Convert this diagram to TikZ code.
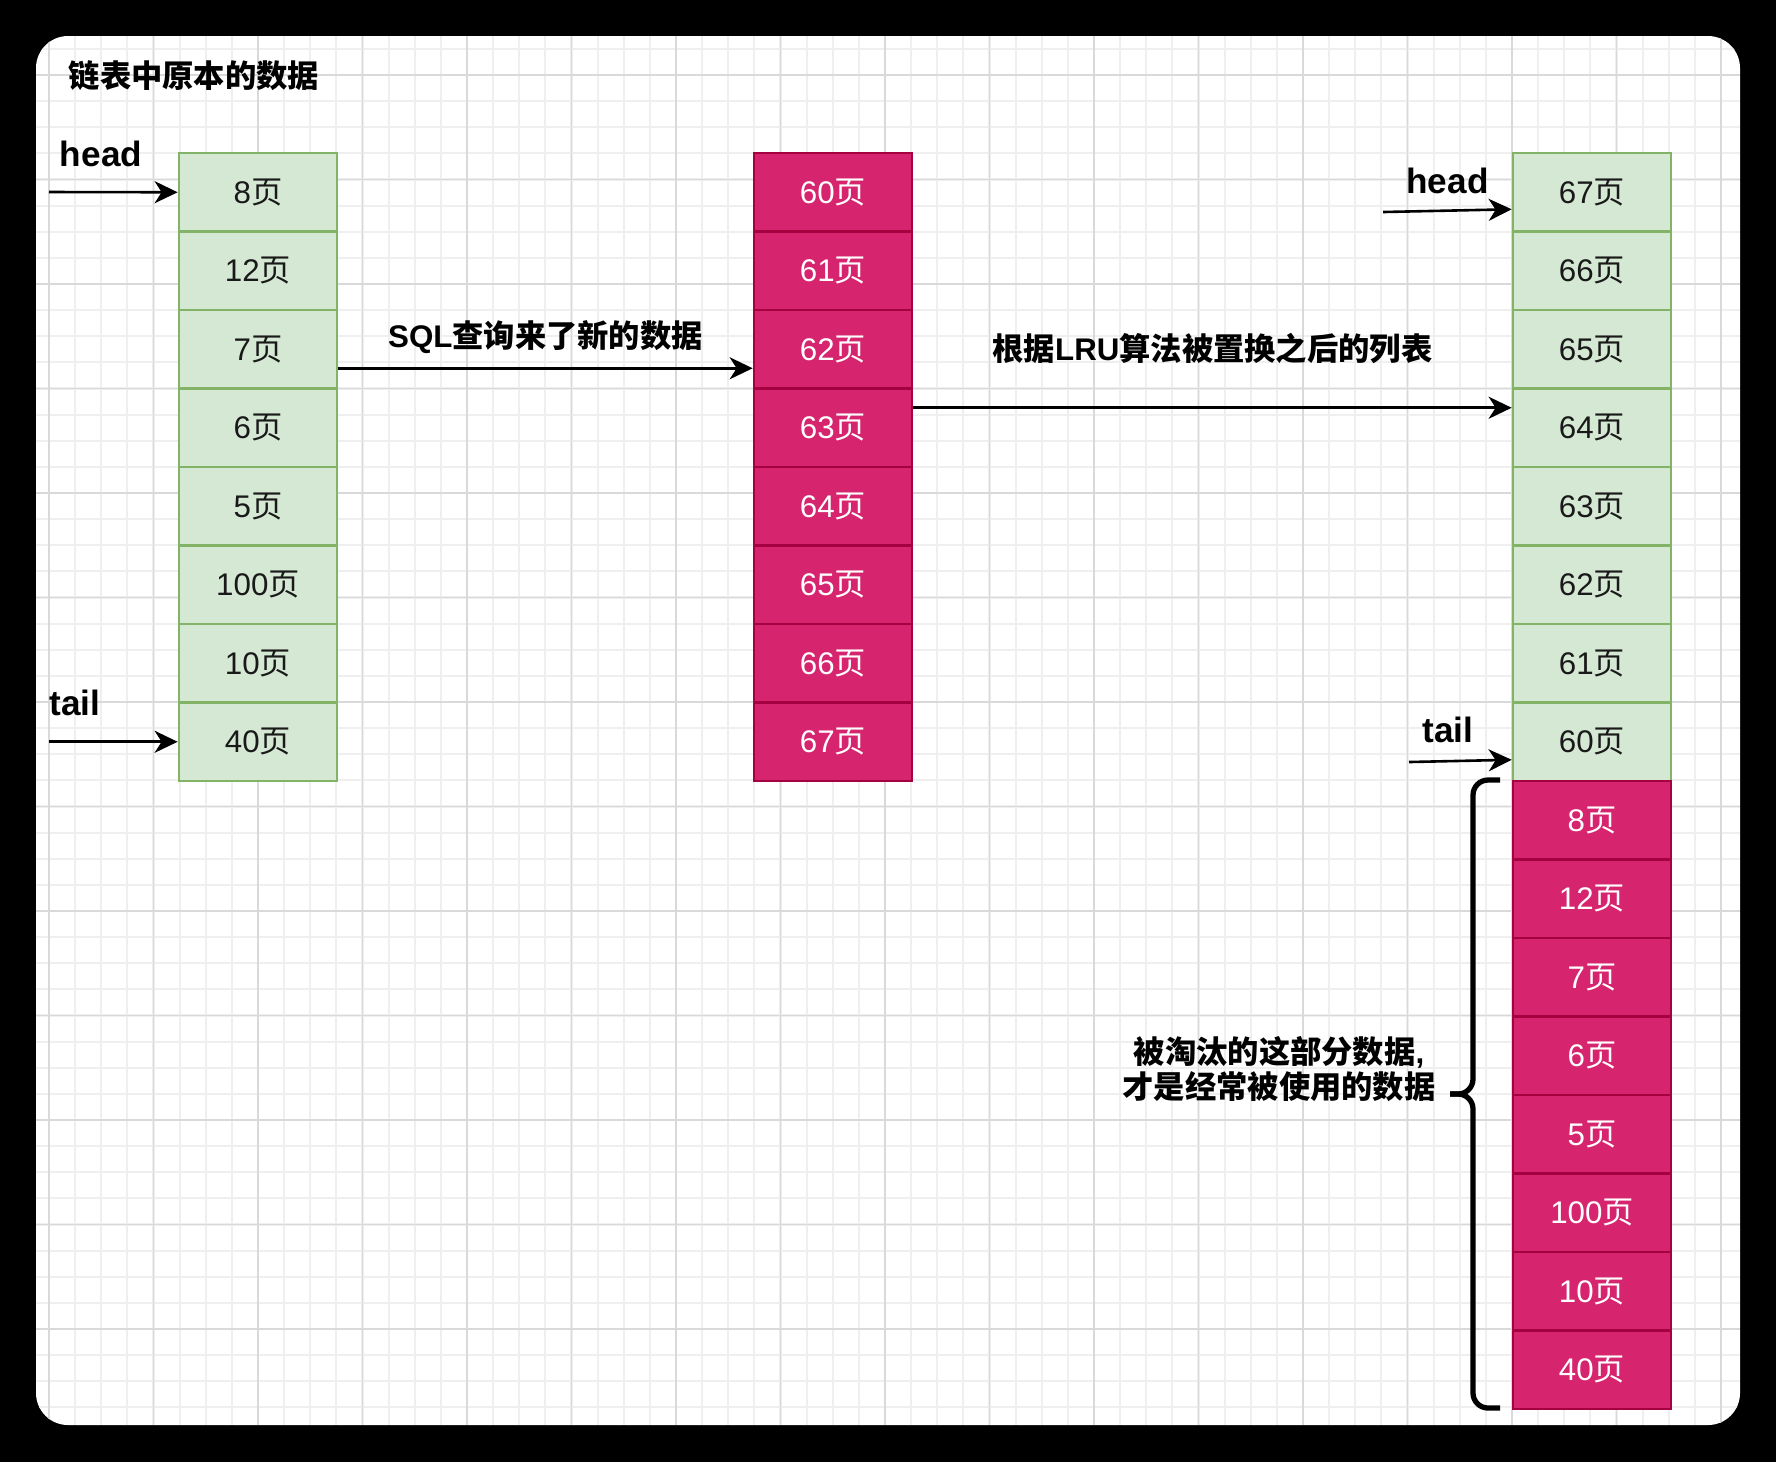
\documentclass[tikz,border=0pt]{standalone}
\usepackage{fontspec}
\setmainfont{Liberation Sans}
\newfontfamily\cjk{Noto Sans CJK SC}
\usetikzlibrary{arrows.meta}

\newcommand{\zh}[1]{{\cjk #1}}
\definecolor{oldfill}{HTML}{D5E8D4}
\definecolor{oldline}{HTML}{82B366}
\definecolor{newfill}{HTML}{D6246F}
\definecolor{newline}{HTML}{A50040}
\definecolor{gridminor}{HTML}{EFEFEF}
\definecolor{gridmajor}{HTML}{D9D9D9}

\begin{document}
\begin{tikzpicture}[x=0.01cm, y=-0.01cm,
        greenbox/.style={draw=oldline, fill=oldfill, line width=0.74pt, minimum width=1.58cm,
            minimum height=0.785cm, inner sep=0pt, text=black!90, font=\fontsize{8.9pt}{10pt}\selectfont},
        redbox/.style={greenbox, draw=newline, fill=newfill, text=white},
        note/.style={font=\fontsize{8.9pt}{10.2pt}\selectfont\bfseries, inner sep=0pt},
        ptr/.style={font=\fontsize{10pt}{12pt}\selectfont\bfseries, inner sep=0pt, anchor=base},
        arr/.style={-{Stealth[length=0.23cm, width=0.22cm, inset=0.07cm]}, line width=0.74pt}]
    \useasboundingbox (0,0) rectangle (1776,1462);

    % Canvas and grid
    \fill[black] (0,0) rectangle (1776,1462);
    \fill[white, rounded corners=0.32cm] (36,36) rectangle (1740,1425);
    \begin{scope}
        \clip[rounded corners=0.32cm] (36,36) rectangle (1740,1425);
        \foreach \k in {0,...,64}
            \draw[gridminor, line width=0.6pt] ({49+26.125*\k},36) -- ({49+26.125*\k},1425);
        \foreach \k in {-1,...,51}
            \draw[gridminor, line width=0.6pt] (36,{75+26.125*\k}) -- (1740,{75+26.125*\k});
        \foreach \k in {0,4,...,64}
            \draw[gridmajor, line width=0.4pt] ({49+26.125*\k},36) -- ({49+26.125*\k},1425);
        \foreach \k in {0,4,...,48}
            \draw[gridmajor, line width=0.4pt] (36,{75+26.125*\k}) -- (1740,{75+26.125*\k});
    \end{scope}

    \node[note, anchor=west] (title) at (68,76) {\zh{链表中原本的数据}};

    % Original list
    \foreach \t [count=\i] in {8,12,7,6,5,100,10,40}
        \node[greenbox] (old\i) at (258,{153+78.5*\i-39.25}) {\t\zh{页}};
    \node[ptr] (headA) at (101,166) {head};
    \coordinate (headAs) at (49,192);
    \draw[arr] (headAs) -- (old1.west);
    \node[ptr] (tailA) at (75,715) {tail};
    \coordinate (tailAs) at (49,741.75);
    \draw[arr] (tailAs) -- (old8.west);

    % Pages loaded by the query
    \foreach \t [count=\i] in {60,...,67}
        \node[redbox] (new\i) at (833,{153+78.5*\i-39.25}) {\t\zh{页}};
    \draw[arr] ([yshift=-0.19cm]old3.east) -- ([yshift=-0.19cm]new3.west)
        node[note, midway, yshift=0.31cm] {SQL\zh{查询来了新的数据}};

    % List after LRU replacement
    \foreach \t [count=\i] in {67,66,...,60}
        \node[greenbox] (lru\i) at (1592,{153+78.5*\i-39.25}) {\t\zh{页}};
    \foreach \t [count=\i from 9] in {8,12,7,6,5,100,10,40}
        \node[redbox] (lru\i) at (1592,{153+78.5*\i-39.25}) {\t\zh{页}};
    \draw[arr] ([yshift=0.2cm]new4.east) -- ([yshift=0.2cm]lru4.west)
        node[note, midway, yshift=0.59cm] {\zh{根据}LRU\zh{算法被置换之后的列表}};
    \node[ptr] (headB) at (1447.5,193) {head};
    \coordinate (headBs) at (1383,212);
    \draw[arr] (headBs) -- ([yshift=-0.17cm]lru1.west);
    \node[ptr] (tailB) at (1448,742) {tail};
    \coordinate (tailBs) at (1409,762);
    \draw[arr] (tailBs) -- ([yshift=-0.18cm]lru8.west);

    % Evicted part
    \draw[line width=1.5pt, rounded corners=0.15cm] (1500,780) -- (1473,780) -- (1473,1094) -- (1450,1094);
    \draw[line width=1.5pt, rounded corners=0.15cm] (1450,1094) -- (1473,1094) -- (1473,1408) -- (1500,1408);
    \node[note, align=center] (lost) at (1279,1069) {\zh{被淘汰的这部分数据},\\\zh{才是经常被使用的数据}};
\end{tikzpicture}
\end{document}
